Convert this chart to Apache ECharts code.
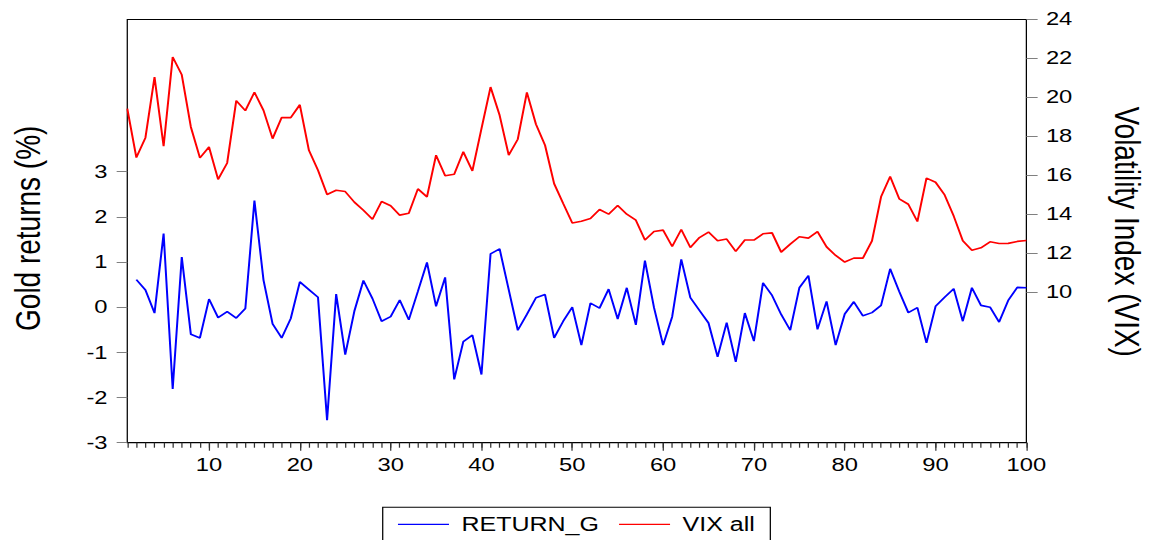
<!DOCTYPE html>
<html>
<head>
<meta charset="utf-8">
<script src="https://cdn.jsdelivr.net/npm/echarts@6/dist/echarts.min.js"></script>
<style>
html,body{margin:0;padding:0;background:#fff;overflow:hidden;width:1154px;height:540px;}
#wrap{width:1154px;height:540px;overflow:hidden;position:relative;}
#c{width:923px;height:540px;transform:scaleX(1.2503);transform-origin:0 0;position:absolute;left:0;top:0;}
</style>
</head>
<body>
<div id="wrap"><div id="c"></div></div>
<script>
// x categories (observation index)
var categories = ['1','2','3','4','5','6','7','8','9','10','11','12','13','14','15','16','17','18','19','20',
'21','22','23','24','25','26','27','28','29','30','31','32','33','34','35','36','37','38','39','40',
'41','42','43','44','45','46','47','48','49','50','51','52','53','54','55','56','57','58','59','60',
'61','62','63','64','65','66','67','68','69','70','71','72','73','74','75','76','77','78','79','80',
'81','82','83','84','85','86','87','88','89','90','91','92','93','94','95','96','97','98','99','100'];

// Gold returns (%) - first observation missing
var returnG = [null,
0.61,0.38,-0.13,1.63,-1.81,1.11,-0.60,-0.68,0.18,-0.23,
-0.10,-0.24,-0.03,2.36,0.60,-0.37,-0.68,-0.25,0.56,0.39,
0.22,-2.50,0.29,-1.05,-0.09,0.59,0.19,-0.31,-0.21,0.16,
-0.28,0.35,0.99,0.02,0.66,-1.60,-0.76,-0.62,-1.49,1.18,
1.29,0.39,-0.51,-0.16,0.21,0.28,-0.68,-0.31,0.00,-0.84,
0.09,-0.02,0.40,-0.26,0.43,-0.39,1.03,-0.01,-0.84,-0.21,
1.06,0.21,-0.07,-0.35,-1.10,-0.34,-1.21,-0.13,-0.75,0.54,
0.26,-0.16,-0.51,0.43,0.70,-0.49,0.13,-0.84,-0.15,0.12,
-0.19,-0.12,0.04,0.85,0.35,-0.12,-0.01,-0.79,0.02,0.22,
0.41,-0.31,0.43,0.04,0.00,-0.33,0.15,0.44,0.43];

// VIX all
var vixAll = [
19.42,16.91,17.93,21.04,17.49,22.07,21.16,18.48,16.89,17.45,
15.79,16.63,19.83,19.32,20.26,19.33,17.88,18.96,18.96,19.62,
17.28,16.26,15.01,15.23,15.16,14.62,14.20,13.74,14.65,14.43,
13.95,14.05,15.30,14.89,17.03,15.97,16.05,17.20,16.22,18.39,
20.53,19.08,17.03,17.85,20.26,18.62,17.54,15.57,14.55,13.55,
13.64,13.78,14.24,14.00,14.45,14.00,13.69,12.67,13.11,13.18,
12.34,13.21,12.29,12.80,13.08,12.63,12.72,12.09,12.67,12.67,
12.99,13.04,12.05,12.46,12.84,12.77,13.10,12.32,11.88,11.54,
11.74,11.74,12.63,14.89,15.93,14.79,14.51,13.62,15.85,15.64,
14.99,13.90,12.63,12.15,12.27,12.58,12.49,12.50,12.60,12.65];

var leftTicks = {min:-3, max:3, step:1};
var rightTicks = {min:10, max:24, step:2};
var seriesNames = ['RETURN_G','VIX all'];
var leftTitle = 'Gold returns (%)';
var rightTitle = 'Volatility Index (VIX)';

var FONT = '"Liberation Sans", Arial, Helvetica, sans-serif';
var chart = echarts.init(document.getElementById('c'), null, {renderer:'svg'});
var GL = 101.8, GR = 102.1;

chart.setOption({
  animation:false,
  backgroundColor:'#fff',
  grid:[
    {left:GL, right:GR, top:19.5, height:423.2, show:true, borderColor:'#000', borderWidth:1, backgroundColor:'transparent'},
    {left:GL, right:GR, top:171.7, height:271},
    {left:GL, right:GR, top:19.3, height:272.7}
  ],
  xAxis:[
    {type:'category', gridIndex:0, data:categories, boundaryGap:false, position:'bottom',
     axisLine:{show:true, onZero:false, lineStyle:{color:'#000', width:1}},
     axisTick:{show:true, length:5, interval:0, lineStyle:{color:'#333', width:1}},
     axisLabel:{show:true, margin:13, color:'#000', fontFamily:FONT, fontSize:19,
       interval:function(i){return (i+1)%10===0;}},
     splitLine:{show:false}},
    {type:'category', gridIndex:0, data:categories, boundaryGap:false, position:'bottom',
     axisLine:{show:false, onZero:false},
     axisTick:{show:true, length:8, interval:function(i){return (i+1)%10===0;}, lineStyle:{color:'#333', width:1}},
     axisLabel:{show:false}, splitLine:{show:false}},
    {type:'value', gridIndex:1, show:false, min:0, max:1, axisLine:{onZero:false}},
    {type:'value', gridIndex:2, show:false, min:0, max:1, axisLine:{onZero:false}}
  ],
  yAxis:[
    {type:'value', gridIndex:0, position:'left', min:-3, max:6.37, show:false, axisLine:{onZero:false}, splitLine:{show:false}},
    {type:'value', gridIndex:0, position:'right', min:2.26, max:24, show:false, axisLine:{onZero:false}, splitLine:{show:false}},
    {type:'value', gridIndex:1, position:'left', min:leftTicks.min, max:leftTicks.max, interval:leftTicks.step,
     axisLine:{show:false, onZero:false}, splitLine:{show:false},
     axisTick:{show:true, length:8.5, lineStyle:{color:'#808080', width:1}},
     axisLabel:{margin:15.8, color:'#000', fontFamily:FONT, fontSize:19}},
    {type:'value', gridIndex:2, position:'right', min:rightTicks.min, max:rightTicks.max, interval:rightTicks.step,
     axisLine:{show:false, onZero:false}, splitLine:{show:false},
     axisTick:{show:true, length:9, lineStyle:{color:'#808080', width:1}},
     axisLabel:{margin:15.6, color:'#000', fontFamily:FONT, fontSize:19}}
  ],
  legend:{
    show:true, left:306.1, top:507.3, orient:'horizontal', selectedMode:false,
    borderColor:'#000', borderWidth:1, backgroundColor:'#fff',
    padding:[7,12.4,20,12.2], icon:'rect', itemWidth:40.8, itemHeight:1.3, itemGap:16,
    textStyle:{fontFamily:FONT, fontSize:20, color:'#000', padding:[0,0,0,5]},
    data:seriesNames
  },
  graphic:[
    {type:'text', x:22.6, y:228.3, rotation:Math.PI/2,
     style:{text:leftTitle, font:'28px '+FONT, fill:'#000', align:'center', verticalAlign:'middle'}},
    {type:'text', x:901.8, y:231.7, rotation:-Math.PI/2,
     style:{text:rightTitle, font:'28px '+FONT, fill:'#000', align:'center', verticalAlign:'middle'}}
  ],
  series:[
    {name:seriesNames[0], type:'line', xAxisIndex:0, yAxisIndex:0, data:returnG, symbol:'none', showSymbol:false,
     connectNulls:false, lineStyle:{color:'#0000ff', width:1.6}, itemStyle:{color:'#0000ff'}},
    {name:seriesNames[1], type:'line', xAxisIndex:0, yAxisIndex:1, data:vixAll, symbol:'none', showSymbol:false,
     lineStyle:{color:'#ff0000', width:1.6}, itemStyle:{color:'#ff0000'}}
  ]
});
</script>
</body>
</html>
